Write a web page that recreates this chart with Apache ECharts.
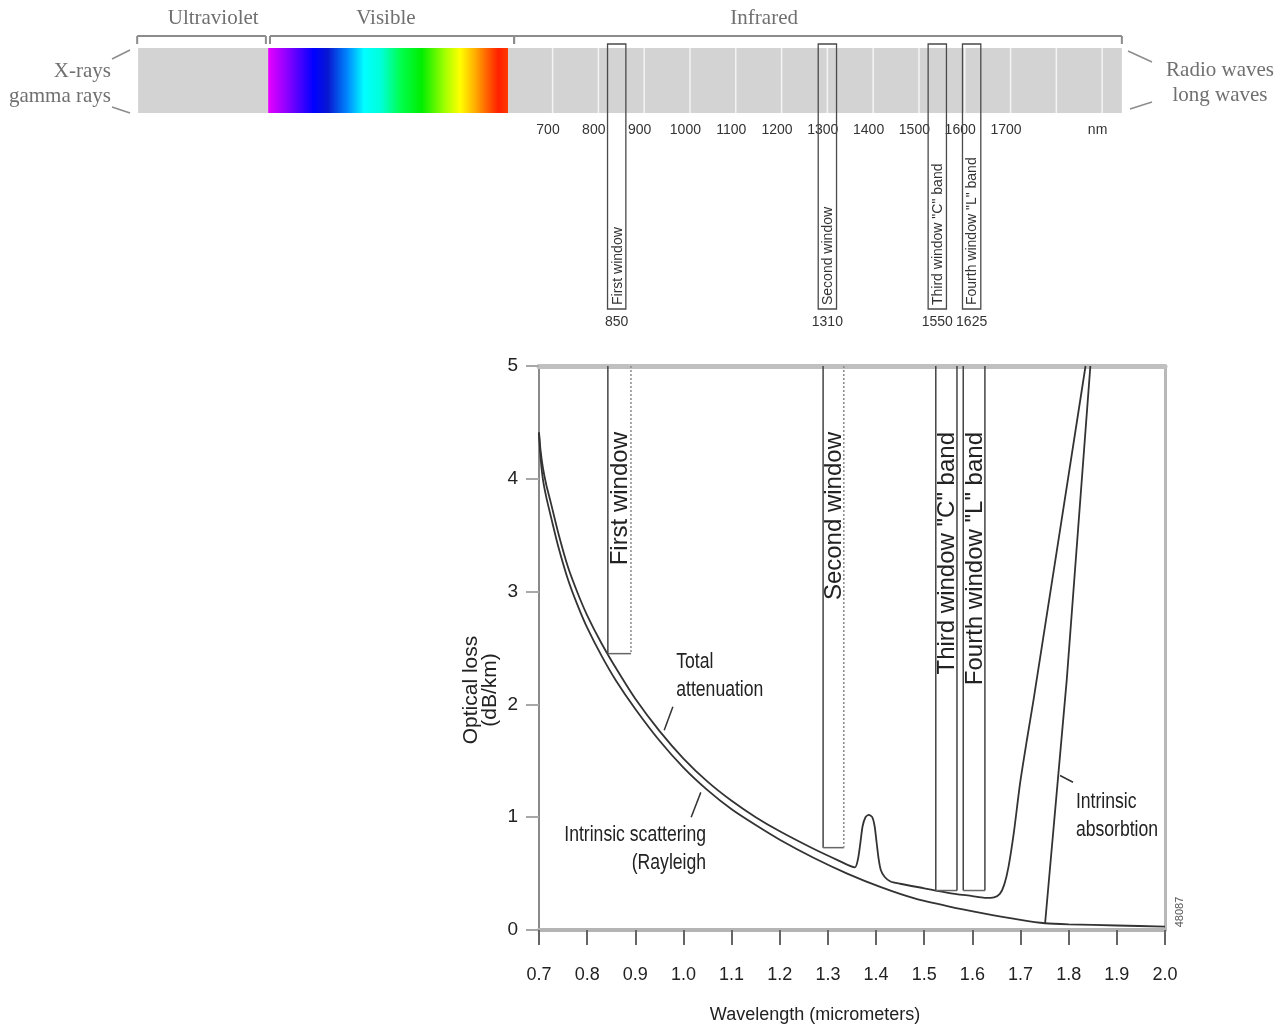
<!DOCTYPE html>
<html><head><meta charset="utf-8">
<script src="https://cdn.jsdelivr.net/npm/echarts@6/dist/echarts.min.js"></script>
<style>html,body{margin:0;padding:0;background:#fff}#c{width:1283px;height:1032px}</style>
</head><body><div id="c"></div>
<script>
// ---------------- DATA ----------------
// Optical loss chart: wavelength (micrometers) vs loss (dB/km)
const scatteringWavelength = [0.700,0.703,0.708,0.715,0.725,0.740,0.760,0.780,0.800,0.830,0.860,0.900,0.950,1.000,1.050,1.100,1.150,1.200,1.270,1.340,1.410,1.480,1.550,1.620,1.700,1.751,1.800,1.900,2.000];
const scatteringLoss       = [4.41,4.20,4.00,3.84,3.66,3.40,3.11,2.88,2.68,2.43,2.21,1.96,1.68,1.44,1.24,1.07,0.93,0.80,0.64,0.50,0.38,0.28,0.21,0.15,0.09,0.06,0.05,0.04,0.03];

const totalWavelength = [0.700,0.703,0.708,0.715,0.725,0.740,0.760,0.780,0.800,0.830,0.860,0.900,0.950,1.000,1.050,1.100,1.150,1.200,1.270,1.320,1.356,1.362,1.367,1.372,1.378,1.385,1.392,1.397,1.401,1.405,1.410,1.418,1.430,1.450,1.500,1.550,1.600,1.625,1.645,1.657,1.666,1.675,1.686,1.699,1.713,1.727,1.835];
const totalLoss       = [4.41,4.26,4.10,3.95,3.78,3.52,3.22,2.99,2.79,2.54,2.32,2.05,1.765,1.52,1.315,1.145,1.00,0.875,0.72,0.62,0.555,0.62,0.76,0.92,1.00,1.02,1.00,0.92,0.78,0.64,0.53,0.47,0.43,0.41,0.37,0.33,0.30,0.285,0.29,0.32,0.40,0.56,0.86,1.30,1.68,2.04,5.00];

const absorptionWavelength = [1.751, 1.796, 1.845];
const absorptionLoss       = [0.06, 2.22, 5.00];

// Transmission windows
const windowNames      = ['First window', 'Second window', 'Third window "C" band', 'Fourth window "L" band'];
const windowStartUm    = [0.843, 1.290, 1.524, 1.581];
const windowEndUm      = [0.891, 1.333, 1.568, 1.626];
const windowFloorLoss  = [2.45, 0.73, 0.35, 0.35];
const windowCenterNm   = [850, 1310, 1550, 1625];

// Annotations on the loss chart (anchor in data units)
const annotationTexts = ['Total\nattenuation', 'Intrinsic scattering\n(Rayleigh', 'Intrinsic\nabsorbtion'];
const annotationX     = [0.985, 1.047, 1.815];
const annotationY     = [2.25, 0.72, 1.01];
const leaderFromX = [0.978, 1.036, 1.782];
const leaderFromY = [1.98, 1.22, 1.37];
const leaderToX   = [0.960, 1.016, 1.809];
const leaderToY   = [1.77, 1.00, 1.31];

// Spectrum ruler (nm, schematic)
const spectrumTicksNm   = [700, 800, 900, 1000, 1100, 1200, 1300, 1400, 1500, 1600, 1700];
const spectrumUnitAtNm  = 1900;
const spectrumDividersNm = [710, 810, 910, 1010, 1110, 1210, 1310, 1410, 1510, 1610, 1710, 1810, 1910];
const bandNames   = ['Ultraviolet', 'Visible', 'Infrared'];
const bandStart   = [-195, 89, 613];
const bandEnd     = [89, 613, 1953];
const bracketStart = [-197, 93, 626];
const bracketEnd   = [84, 626, 1953];
const bandLabelAt  = [-31, 346, 1172];

// ---------------- CHART ----------------
const SANS = "'Liberation Sans',Arial,Helvetica,sans-serif";
const SERIF = "'Liberation Serif','Times New Roman',serif";
const NARROW_SCALE = 0.8;

const zip = (a, b) => a.map((v, i) => [v, b[i]]);

const visibleGradient = new echarts.graphic.LinearGradient(0, 0, 1, 0, [
  {offset: 0.00, color: '#e600ff'},
  {offset: 0.08, color: '#8a00ff'},
  {offset: 0.19, color: '#0000ff'},
  {offset: 0.25, color: '#0818d0'},
  {offset: 0.33, color: '#0088ff'},
  {offset: 0.40, color: '#00ffff'},
  {offset: 0.47, color: '#00ffd8'},
  {offset: 0.55, color: '#00ff50'},
  {offset: 0.64, color: '#00ee00'},
  {offset: 0.74, color: '#a8ff00'},
  {offset: 0.80, color: '#ffff00'},
  {offset: 0.86, color: '#ffb000'},
  {offset: 0.91, color: '#ff6400'},
  {offset: 0.96, color: '#ff2000'},
  {offset: 1.00, color: '#ff3a00'}
]);

const chart = echarts.init(document.getElementById('c'), null, {renderer: 'canvas'});

const option = {
  backgroundColor: '#ffffff',
  animation: false,
  grid: [
    {left: 539, top: 366, width: 626, height: 564, containLabel: false},
    {left: 138, top: 48, width: 984, height: 65, containLabel: false}
  ],
  xAxis: [
    {
      gridIndex: 0, type: 'value', min: 0.7, max: 2.0, interval: 0.1, position: 'bottom',
      axisLine: {show: true, onZero: false, lineStyle: {color: '#b4b4b4', width: 4}},
      axisTick: {show: true, length: 15, lineStyle: {color: '#666', width: 2}},
      axisLabel: {margin: 36, fontFamily: SANS, fontSize: 18, color: '#222', formatter: v => v.toFixed(1)},
      splitLine: {show: false},
      name: 'Wavelength (micrometers)', nameLocation: 'middle', nameGap: 76,
      nameTextStyle: {fontFamily: SANS, fontSize: 18, color: '#222', padding: [0, 74, 0, 0]}
    },
    {
      gridIndex: 0, type: 'value', min: 0.7, max: 2.0, position: 'top',
      axisLine: {show: true, onZero: false, lineStyle: {color: '#c0c0c0', width: 5}},
      axisTick: {show: false}, axisLabel: {show: false}, splitLine: {show: false}
    },
    {
      gridIndex: 1, type: 'value', min: -195.2, max: 1953.3, position: 'bottom',
      axisLine: {show: false}, axisTick: {show: false}, splitLine: {show: false},
      axisLabel: {
        show: true, margin: 10, fontFamily: SANS, fontSize: 14, color: '#333',
        customValues: spectrumTicksNm.concat([spectrumUnitAtNm]),
        formatter: v => (v === spectrumUnitAtNm ? 'nm' : String(v))
      }
    }
  ],
  yAxis: [
    {
      gridIndex: 0, type: 'value', min: 0, max: 5, interval: 1,
      axisLine: {show: true, onZero: false, lineStyle: {color: '#8a8a8a', width: 2}},
      axisTick: {show: true, length: 13, lineStyle: {color: '#a8a8a8', width: 2}},
      axisLabel: {margin: 21, fontFamily: SANS, fontSize: 19, color: '#222'},
      splitLine: {show: false},
      name: 'Optical loss\n(dB/km)', nameLocation: 'middle', nameRotate: 90, nameGap: 39,
      nameTextStyle: {fontFamily: SANS, fontSize: 21, lineHeight: 19, color: '#222', padding: [0, 84, 0, 0]}
    },
    {
      gridIndex: 0, type: 'value', min: 0, max: 5, position: 'right',
      axisLine: {show: true, onZero: false, lineStyle: {color: '#b8b8b8', width: 3}},
      axisTick: {show: false}, axisLabel: {show: false}, splitLine: {show: false}
    },
    {
      gridIndex: 1, type: 'value', min: 0, max: 1, show: false
    }
  ],
  series: [
    // ---- spectrum bar (top) ----
    {
      type: 'custom', name: 'bands', xAxisIndex: 2, yAxisIndex: 2, silent: true, z: 1,
      data: bandStart.map((s, i) => [s, bandEnd[i]]),
      renderItem: (params, api) => {
        const a = api.coord([api.value(0), 1]);
        const b = api.coord([api.value(1), 0]);
        return {type: 'rect', shape: {x: a[0], y: a[1], width: b[0] - a[0], height: b[1] - a[1]},
          style: {fill: params.dataIndex === 1 ? visibleGradient : '#d3d3d3'}};
      }
    },
    {
      type: 'custom', name: 'dividers', xAxisIndex: 2, yAxisIndex: 2, silent: true, z: 2,
      data: spectrumDividersNm.map(v => [v, 0]),
      renderItem: (params, api) => {
        const a = api.coord([api.value(0), 1]);
        const b = api.coord([api.value(0), 0]);
        return {type: 'line', shape: {x1: a[0], y1: a[1], x2: b[0], y2: b[1]}, style: {stroke: '#f4f4f4', lineWidth: 1.5}};
      }
    },
    {
      type: 'custom', name: 'brackets', xAxisIndex: 2, yAxisIndex: 2, silent: true, z: 3,
      data: bracketStart.map((s, i) => [s, bracketEnd[i], bandLabelAt[i]]),
      renderItem: (params, api) => {
        const a = api.coord([api.value(0), 1]);
        const b = api.coord([api.value(1), 1]);
        const c = api.coord([api.value(2), 1]);
        const yl = a[1] - 12, yt = a[1] - 4;
        const st = {stroke: '#8c8c8c', lineWidth: 2};
        return {type: 'group', children: [
          {type: 'line', shape: {x1: a[0], y1: yl, x2: b[0], y2: yl}, style: st},
          {type: 'line', shape: {x1: a[0], y1: yl, x2: a[0], y2: yt}, style: st},
          {type: 'line', shape: {x1: b[0], y1: yl, x2: b[0], y2: yt}, style: st},
          {type: 'text', x: c[0], y: a[1] - 30, style: {text: bandNames[params.dataIndex], align: 'center', verticalAlign: 'middle',
            fontFamily: SERIF, fontSize: 21, fill: '#707070'}}
        ]};
      }
    },
    {
      type: 'custom', name: 'windowsTop', xAxisIndex: 2, yAxisIndex: 2, silent: true, z: 4,
      data: windowCenterNm.map(v => [v, 0]),
      renderItem: (params, api) => {
        const v = api.value(0);
        const a = api.coord([v - 20, 1]);
        const b = api.coord([v + 20, 0]);
        const top = a[1] - 4, bottom = b[1] + 196;
        const cx = (a[0] + b[0]) / 2;
        return {type: 'group', children: [
          {type: 'rect', shape: {x: a[0], y: top, width: b[0] - a[0], height: bottom - top},
            style: {fill: 'none', stroke: '#4a4a4a', lineWidth: 1.3}},
          {type: 'text', x: cx + 1, y: bottom - 4, rotation: Math.PI / 2,
            style: {text: windowNames[params.dataIndex], align: 'left', verticalAlign: 'middle', fontFamily: SANS, fontSize: 14, fill: '#333'}},
          {type: 'text', x: cx, y: bottom + 13,
            style: {text: String(v), align: 'center', verticalAlign: 'middle', fontFamily: SANS, fontSize: 14, fill: '#333'}}
        ]};
      }
    },
    // ---- loss chart (bottom) ----
    {
      type: 'line', name: 'Intrinsic scattering', xAxisIndex: 0, yAxisIndex: 0,
      data: zip(scatteringWavelength, scatteringLoss), showSymbol: false, smooth: 0.25,
      lineStyle: {color: '#333', width: 1.8}, z: 3
    },
    {
      type: 'line', name: 'Total attenuation', xAxisIndex: 0, yAxisIndex: 0,
      data: zip(totalWavelength, totalLoss), showSymbol: false, smooth: 0.25,
      lineStyle: {color: '#333', width: 1.8}, z: 3
    },
    {
      type: 'line', name: 'Intrinsic absorption', xAxisIndex: 0, yAxisIndex: 0,
      data: zip(absorptionWavelength, absorptionLoss), showSymbol: false, smooth: false,
      lineStyle: {color: '#333', width: 1.8}, z: 3
    },
    {
      type: 'custom', name: 'windows', xAxisIndex: 0, yAxisIndex: 0, silent: true, z: 4,
      data: windowStartUm.map((s, i) => [s, windowEndUm[i], windowFloorLoss[i]]),
      encode: {x: [0, 1], y: 2},
      renderItem: (params, api) => {
        const i = params.dataIndex;
        const a = api.coord([api.value(0), 5]);
        const b = api.coord([api.value(1), api.value(2)]);
        const cx = (a[0] + b[0]) / 2;
        const solid = {stroke: '#444', lineWidth: 1.5};
        const rightStyle = i < 2 ? {stroke: '#8a8a8a', lineWidth: 1.5, lineDash: [2, 2]} : solid;
        return {type: 'group', children: [
          {type: 'line', shape: {x1: a[0], y1: a[1], x2: a[0], y2: b[1]}, style: solid},
          {type: 'line', shape: {x1: a[0], y1: b[1], x2: b[0], y2: b[1]}, style: {stroke: '#666', lineWidth: 1.5}},
          {type: 'line', shape: {x1: b[0], y1: a[1], x2: b[0], y2: b[1]}, style: rightStyle},
          {type: 'text', x: cx + 1, y: a[1] + 66, rotation: Math.PI / 2,
            style: {text: windowNames[i], align: 'right', verticalAlign: 'middle', fontFamily: SANS, fontSize: 24, fill: '#222'}}
        ]};
      }
    },
    {
      type: 'lines', name: 'leaders', coordinateSystem: 'cartesian2d', xAxisIndex: 0, yAxisIndex: 0, silent: true, z: 4,
      data: leaderFromX.map((x, i) => ({coords: [[x, leaderFromY[i]], [leaderToX[i], leaderToY[i]]]})),
      lineStyle: {color: '#333', width: 1.5, opacity: 1}
    },
    {
      type: 'custom', name: 'annotations', xAxisIndex: 0, yAxisIndex: 0, silent: true, z: 5,
      data: annotationX.map((x, i) => [x, annotationY[i]]),
      renderItem: (params, api) => {
        const i = params.dataIndex;
        const p = api.coord([api.value(0), api.value(1)]);
        return {type: 'text', x: p[0], y: p[1], scaleX: NARROW_SCALE, style: {text: annotationTexts[i], align: i === 1 ? 'right' : 'left',
          verticalAlign: 'middle', fontFamily: SANS, fontSize: 22, lineHeight: 28, fill: '#222'}};
      }
    }
  ],
  graphic: [
    {type: 'text', x: 111, y: 71, style: {text: 'X-rays', align: 'right', verticalAlign: 'middle', fontFamily: SERIF, fontSize: 21, fill: '#707070'}},
    {type: 'text', x: 111, y: 96, style: {text: 'gamma rays', align: 'right', verticalAlign: 'middle', fontFamily: SERIF, fontSize: 21, fill: '#707070'}},
    {type: 'text', x: 1220, y: 70, style: {text: 'Radio waves', align: 'center', verticalAlign: 'middle', fontFamily: SERIF, fontSize: 21, fill: '#707070'}},
    {type: 'text', x: 1220, y: 95, style: {text: 'long waves', align: 'center', verticalAlign: 'middle', fontFamily: SERIF, fontSize: 21, fill: '#707070'}},
    {type: 'line', shape: {x1: 112, y1: 59, x2: 130, y2: 50}, style: {stroke: '#8c8c8c', lineWidth: 1.5}},
    {type: 'line', shape: {x1: 112, y1: 107, x2: 130, y2: 113}, style: {stroke: '#8c8c8c', lineWidth: 1.5}},
    {type: 'line', shape: {x1: 1128, y1: 51, x2: 1152, y2: 62}, style: {stroke: '#8c8c8c', lineWidth: 1.5}},
    {type: 'line', shape: {x1: 1130, y1: 109, x2: 1152, y2: 102}, style: {stroke: '#8c8c8c', lineWidth: 1.5}},
    {type: 'text', x: 1180, y: 912, rotation: Math.PI / 2, style: {text: '48087', align: 'center', verticalAlign: 'middle', fontFamily: SANS, fontSize: 11, fill: '#555'}}
  ]
};

chart.setOption(option);
</script>
</body></html>
